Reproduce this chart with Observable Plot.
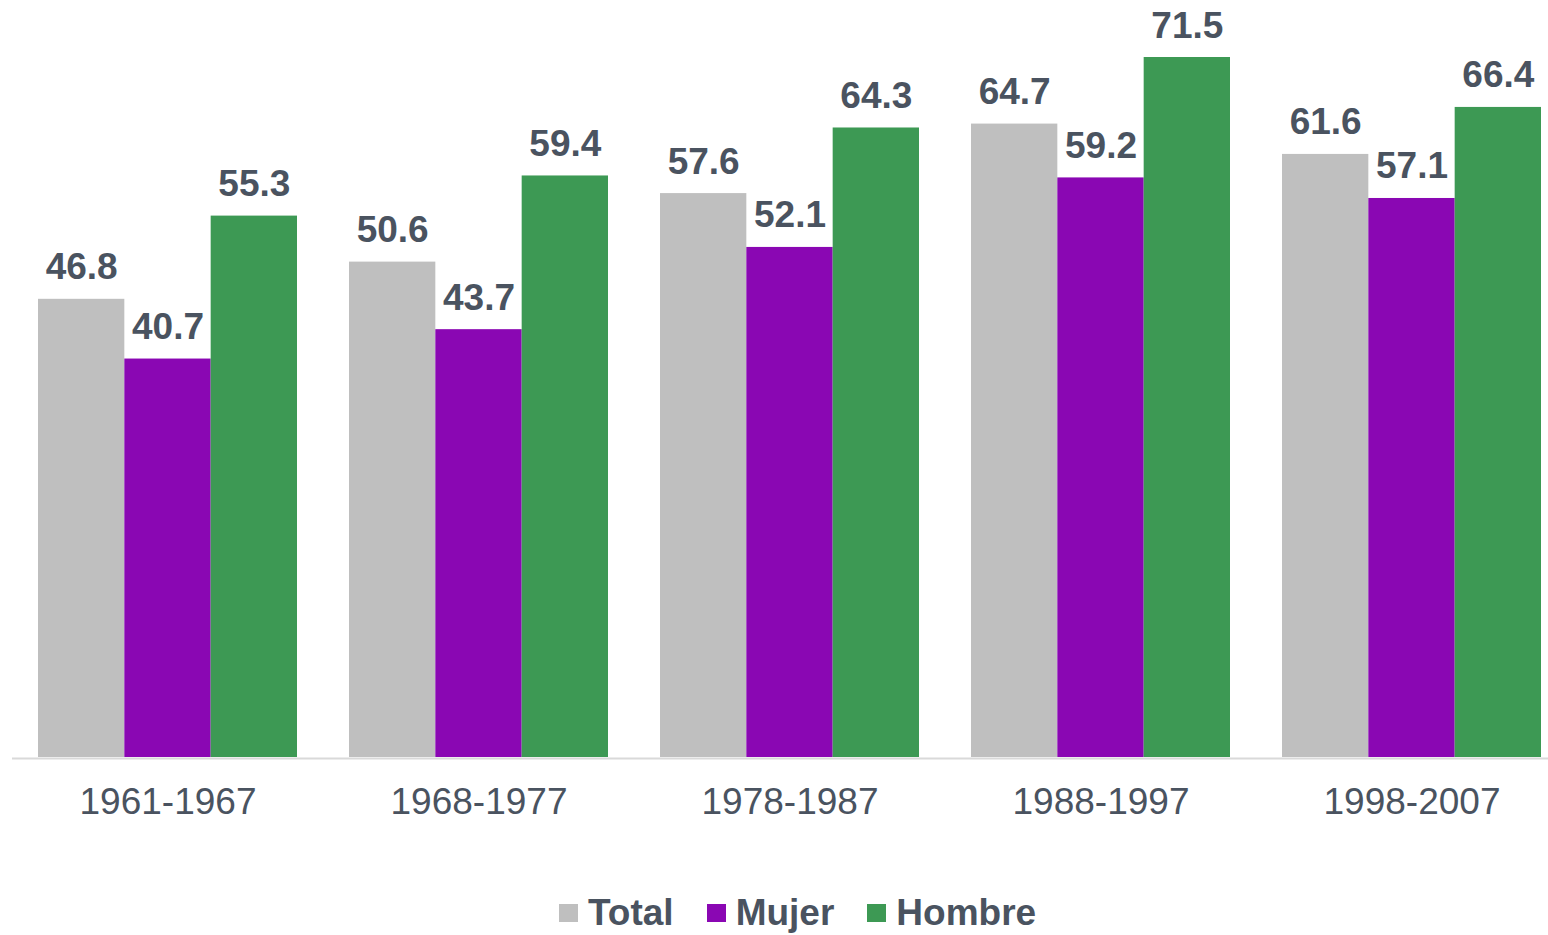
<!DOCTYPE html>
<html><head><meta charset="utf-8">
<script src="https://cdn.jsdelivr.net/npm/d3@7"></script>
<script src="https://cdn.jsdelivr.net/npm/@observablehq/plot@0.6"></script>
<style>
html,body{margin:0;padding:0;background:#fff;overflow:hidden}
body{font-family:"Liberation Sans",Arial,sans-serif;width:1548px;height:935px;position:relative}
#chart svg{max-width:none;display:block}
.legend{position:absolute;top:893px;left:559px;display:flex;align-items:center;color:#4a5360;font-weight:bold;font-size:37px;line-height:40px}
.legend .item{display:flex;align-items:center;margin-right:33px}
.legend .sw{width:19px;height:18px;margin-right:10px}
</style>
</head><body>
<div id="chart"></div>
<div class="legend" id="legend"></div>
<script>
const periods = ["1961-1967","1968-1977","1978-1987","1988-1997","1998-2007"];
const series = ["Total","Mujer","Hombre"];
const total = [46.8,50.6,57.6,64.7,61.6];
const mujer = [40.7,43.7,52.1,59.2,57.1];
const hombre = [55.3,59.4,64.3,71.5,66.4];
const colors = ["#bfbfbf","#8a07b3","#3d9954"];

const values = [total, mujer, hombre];
const data = [];
periods.forEach((p,i)=>series.forEach((s,j)=>data.push({period:p, series:s, value:values[j][i]})));

const textColor = "#4a5360";
const chart = Plot.plot({
  width:1548, height:850,
  marginLeft:12, marginRight:-19, marginTop:57, marginBottom:93,
  style:{fontFamily:'"Liberation Sans", Arial, sans-serif', color:textColor, background:"#fff"},
  fx:{domain:periods, paddingInner:0.1672, paddingOuter:0.0836, round:false, label:null},
  x:{domain:series, padding:0, round:false, axis:null},
  y:{domain:[0,71.5], axis:null},
  color:{domain:series, range:colors},
  marks:[
    Plot.barY(data,{fx:"period", x:"series", y:"value", fill:"series"}),
    Plot.text(data,{fx:"period", x:"series", y:"value", text:d=>d.value.toFixed(1), lineAnchor:"bottom", dy:-20, fontSize:37, fontWeight:"bold", fill:textColor}),
    Plot.ruleY([0],{stroke:"#d9d9d9", strokeWidth:2, dy:1, insetLeft:-26, insetRight:-26}),
    Plot.axisFx({anchor:"bottom", tickSize:0, tickPadding:30, fontSize:37, label:null, fill:textColor})
  ]
});
document.getElementById("chart").appendChild(chart);

const leg = document.getElementById("legend");
series.forEach((s,j)=>{
  const it = document.createElement("div"); it.className="item";
  const sw = document.createElement("div"); sw.className="sw"; sw.style.background=colors[j];
  const t = document.createElement("span"); t.textContent=s;
  it.appendChild(sw); it.appendChild(t); leg.appendChild(it);
});
</script>
</body></html>
